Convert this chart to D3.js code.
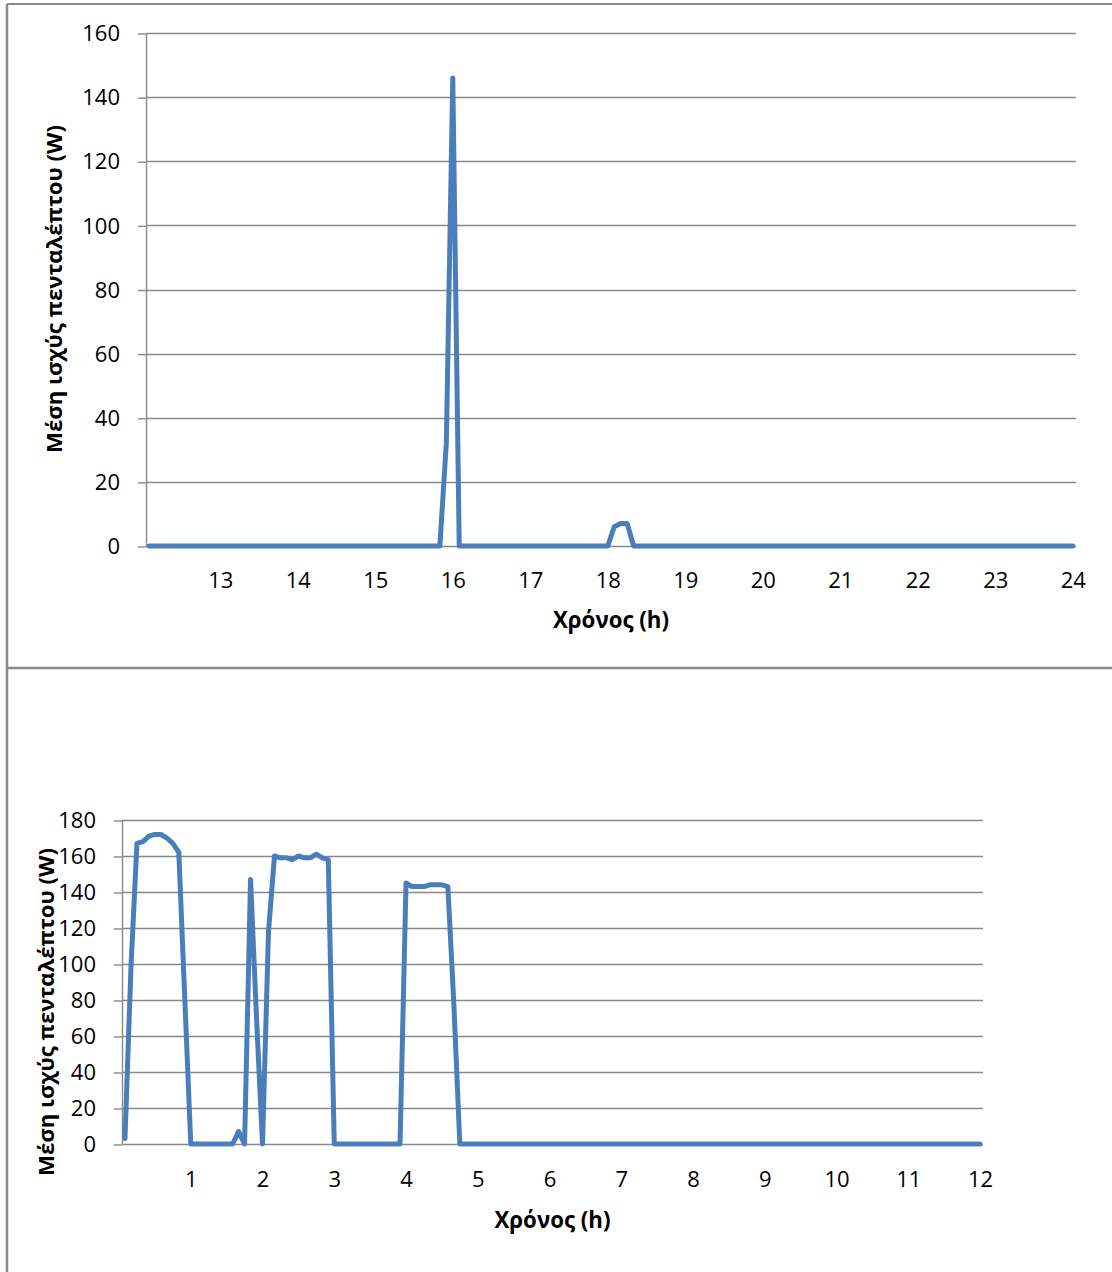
<!DOCTYPE html>
<html>
<head>
<meta charset="utf-8">
<script src="https://cdn.jsdelivr.net/npm/d3@7"></script>
<style>
  html, body { margin: 0; padding: 0; background: #fff; }
  svg { display: block; }
  text { font-family: "Open Sans", "Noto Sans", sans-serif; fill: #000; }
</style>
</head>
<body>
<svg id="chart" width="1112" height="1272"></svg>
<script>
// ---- Data (5-minute averages) ----
// Top chart: 12:05 .. 24:00, 144 values
const topStartHour = 12;
const topValues = [
  0,0,0,0,0,0,0,0,0,0,0,0,   // 12:05-13:00
  0,0,0,0,0,0,0,0,0,0,0,0,   // 13:05-14:00
  0,0,0,0,0,0,0,0,0,0,0,0,   // 14:05-15:00
  0,0,0,0,0,0,0,0,0,0,32,146,// 15:05-16:00
  0,0,0,0,0,0,0,0,0,0,0,0,   // 16:05-17:00
  0,0,0,0,0,0,0,0,0,0,0,0,   // 17:05-18:00
  6,7,7,0,0,0,0,0,0,0,0,0,   // 18:05-19:00
  0,0,0,0,0,0,0,0,0,0,0,0,   // 19:05-20:00
  0,0,0,0,0,0,0,0,0,0,0,0,   // 20:05-21:00
  0,0,0,0,0,0,0,0,0,0,0,0,   // 21:05-22:00
  0,0,0,0,0,0,0,0,0,0,0,0,   // 22:05-23:00
  0,0,0,0,0,0,0,0,0,0,0,0    // 23:05-24:00
];
const topXTicks = [13,14,15,16,17,18,19,20,21,22,23,24];
const topYTicks = [0,20,40,60,80,100,120,140,160];

// Bottom chart: 00:05 .. 12:00, 144 values
const bottomStartHour = 0;
const bottomValues = [
  3,98,167,168,171,172,172,170,167,162,81,0,        // 0:05-1:00
  0,0,0,0,0,0,0,7,0,147,70,0,                       // 1:05-2:00
  118,160,159,159,158,160,159,159,161,159,158,0,    // 2:05-3:00
  0,0,0,0,0,0,0,0,0,0,0,145,                        // 3:05-4:00
  143,143,143,144,144,144,143,78,0,0,0,0,           // 4:05-5:00
  0,0,0,0,0,0,0,0,0,0,0,0,                          // 5:05-6:00
  0,0,0,0,0,0,0,0,0,0,0,0,                          // 6:05-7:00
  0,0,0,0,0,0,0,0,0,0,0,0,                          // 7:05-8:00
  0,0,0,0,0,0,0,0,0,0,0,0,                          // 8:05-9:00
  0,0,0,0,0,0,0,0,0,0,0,0,                          // 9:05-10:00
  0,0,0,0,0,0,0,0,0,0,0,0,                          // 10:05-11:00
  0,0,0,0,0,0,0,0,0,0,0,0                           // 11:05-12:00
];
const bottomXTicks = [1,2,3,4,5,6,7,8,9,10,11,12];
const bottomYTicks = [0,20,40,60,80,100,120,140,160,180];

const xTitle = "Χρόνος (h)";
const yTitle = "Μέση ισχύς πενταλέπτου (W)";

// ---- Drawing ----
const svg = d3.select("#chart");
const gridColor = "#898989";
const lineColor = "#4A7EBB";

// outer frame
svg.append("line").attr("x1", 7).attr("x2", 1112).attr("y1", 4).attr("y2", 4)
  .attr("stroke", gridColor).attr("stroke-width", 2);
svg.append("line").attr("x1", 7).attr("x2", 7).attr("y1", 4).attr("y2", 1272)
  .attr("stroke", gridColor).attr("stroke-width", 2.5);
svg.append("line").attr("x1", 7).attr("x2", 1112).attr("y1", 668).attr("y2", 668)
  .attr("stroke", gridColor).attr("stroke-width", 2.5);

function drawChart(cfg) {
  const g = svg.append("g");
  const n = cfg.values.length;
  const step = 12 / n; // hours per point
  const x = d3.scaleLinear()
    .domain([cfg.startHour + step / 2, cfg.startHour + 12 + step / 2])
    .range([cfg.left, cfg.right]);
  const y = d3.scaleLinear()
    .domain([0, d3.max(cfg.yTicks)])
    .range([cfg.bottom, cfg.top]);

  // gridlines
  g.append("g").selectAll("line").data(cfg.yTicks).join("line")
    .attr("x1", cfg.left).attr("x2", cfg.right)
    .attr("y1", d => Math.round(y(d)) + 0.5).attr("y2", d => Math.round(y(d)) + 0.5)
    .attr("stroke", gridColor).attr("stroke-width", 1.4);

  // y axis
  const yAxis = d3.axisLeft(y).tickValues(cfg.yTicks).tickSize(8).tickPadding(cfg.yPad).tickFormat(d3.format("d"));
  const ya = g.append("g").attr("transform", `translate(${cfg.left},0)`).call(yAxis);
  ya.select(".domain").attr("stroke", gridColor).attr("stroke-width", 1.4).attr("d", `M0.5,${cfg.bottom}V${cfg.top}`);
  ya.selectAll(".tick line").attr("stroke", gridColor).attr("stroke-width", 1.4)
    .attr("transform", "translate(0,0.5)");
  ya.selectAll(".tick text").attr("font-size", 22).attr("font-family", "Open Sans").attr("fill", "#000").attr("dy", "0.35em");

  // x axis
  const xAxis = d3.axisBottom(x).tickValues(cfg.xTicks).tickSize(0).tickPadding(0).tickFormat(d3.format("d"));
  const xa = g.append("g").attr("transform", `translate(0,${cfg.bottom})`).call(xAxis);
  xa.select(".domain").remove();
  xa.selectAll(".tick text").attr("font-size", 22).attr("font-family", "Open Sans").attr("fill", "#000")
    .attr("y", cfg.xLabelOffset).attr("dy", "0.35em");

  // line
  const pts = cfg.values.map((v, i) => [cfg.startHour + (i + 1) * step, v]);
  const line = d3.line().x(d => x(d[0])).y(d => y(d[1]));
  g.append("path").datum(pts)
    .attr("d", line)
    .attr("fill", "none")
    .attr("stroke", lineColor)
    .attr("stroke-width", 5)
    .attr("stroke-linejoin", "round")
    .attr("stroke-linecap", "round");

  // titles
  g.append("text")
    .attr("x", (cfg.left + cfg.right) / 2).attr("y", cfg.xTitleY)
    .attr("text-anchor", "middle")
    .attr("font-weight", "bold").attr("font-size", 23)
    .attr("textLength", 116).attr("lengthAdjust", "spacingAndGlyphs")
    .text(xTitle);
  g.append("text")
    .attr("transform", `translate(${cfg.yTitleX},${cfg.yTitleCY}) rotate(-90)`)
    .attr("text-anchor", "middle")
    .attr("font-weight", "bold").attr("font-size", 22)
    .attr("textLength", 328).attr("lengthAdjust", "spacingAndGlyphs")
    .text(yTitle);
}

drawChart({
  values: topValues, startHour: topStartHour, xTicks: topXTicks, yTicks: topYTicks,
  left: 146, right: 1076, top: 33, bottom: 546,
  yPad: 18, xLabelOffset: 34, xTitleY: 628, yTitleX: 62, yTitleCY: 289
});

drawChart({
  values: bottomValues, startHour: bottomStartHour, xTicks: bottomXTicks, yTicks: bottomYTicks,
  left: 122, right: 983, top: 820, bottom: 1144,
  yPad: 18, xLabelOffset: 35, xTitleY: 1228, yTitleX: 54, yTitleCY: 1012
});
</script>
</body>
</html>
